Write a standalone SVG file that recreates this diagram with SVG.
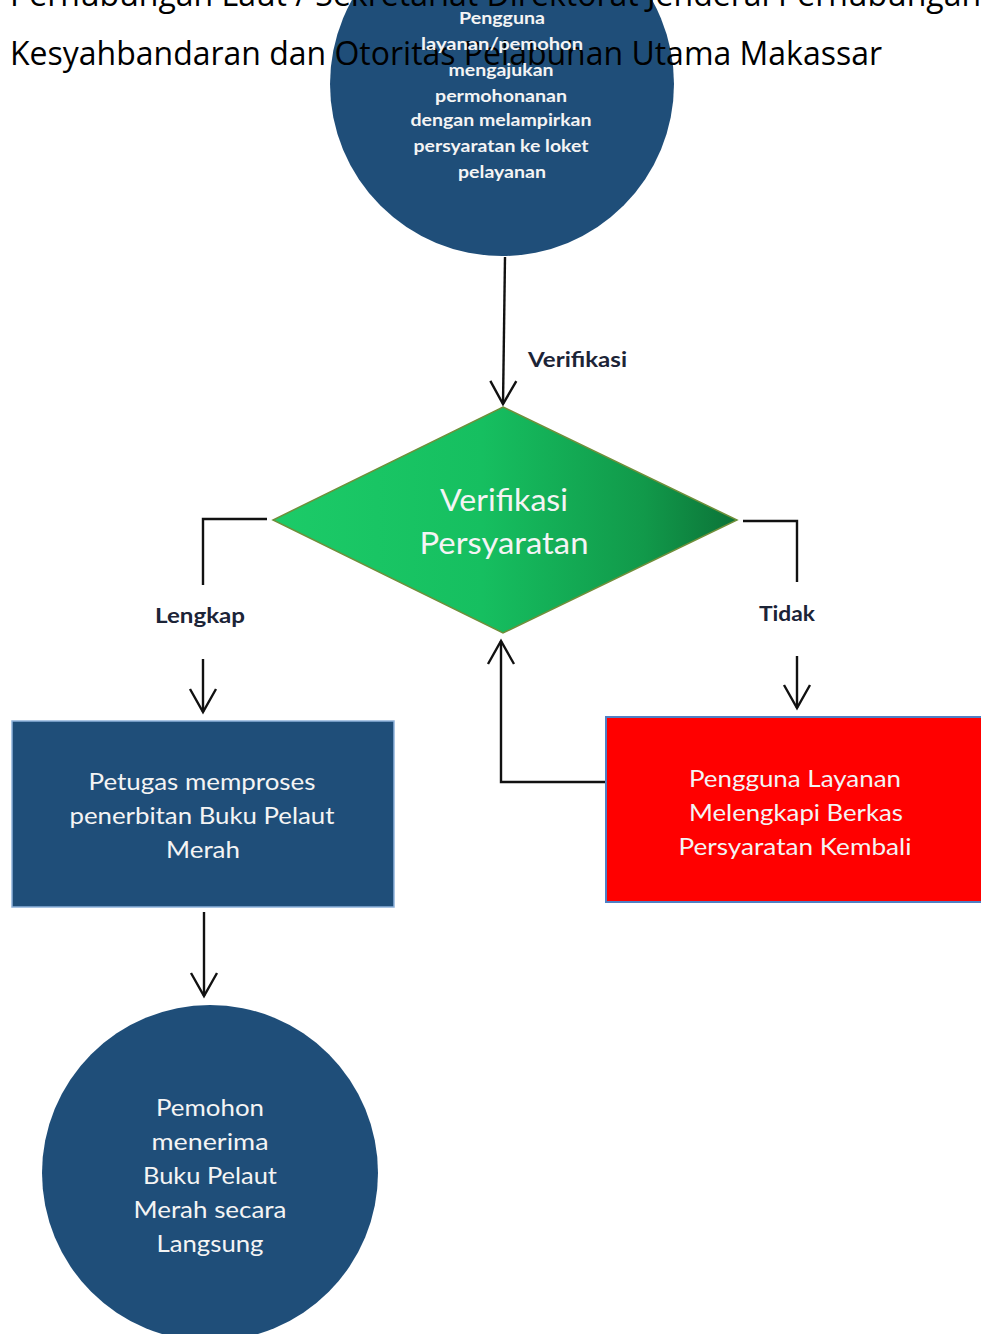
<svg xmlns="http://www.w3.org/2000/svg" width="981" height="1334" viewBox="0 0 981 1334">
<defs>
<linearGradient id="gd" x1="0" y1="0" x2="1" y2="0">
<stop offset="0" stop-color="#1ccb68"/>
<stop offset="0.45" stop-color="#16bf60"/>
<stop offset="0.8" stop-color="#11994a"/>
<stop offset="1" stop-color="#0c7338"/>
</linearGradient>
<marker id="ah" markerUnits="userSpaceOnUse" markerWidth="40" markerHeight="40" viewBox="-30 -20 40 40" refX="0" refY="0" orient="auto">
<path d="M -23 -13 L 0 0 L -23 13" fill="none" stroke="#111" stroke-width="2.4"/>
</marker>
<style>
.hdr{font-family:"Open Sans","Liberation Sans",sans-serif;font-size:32px;fill:#000}
.wt{font-family:"Lato","Open Sans",sans-serif;fill:#f4f4f4;text-anchor:middle}
.lbl{font-family:"Lato","Open Sans",sans-serif;font-size:21px;font-weight:bold;fill:#1c2437}
.con{fill:none;stroke:#111;stroke-width:2.4}
</style>
</defs>
<rect width="981" height="1334" fill="#fff"/>
<g id="node-start">
<circle cx="502" cy="84" r="172" fill="#1f4e79"/>
</g>
<g id="header">
<text class="hdr" x="10" y="6">Perhubungan Laut / Sekretariat Direktorat Jenderal Perhubungan</text>
<text class="hdr" x="10" y="65" textLength="872" lengthAdjust="spacingAndGlyphs">Kesyahbandaran dan Otoritas Pelabuhan Utama Makassar</text>
</g>
<g id="node-start-text" font-size="17" font-weight="bold">
<text class="wt" x="502" y="24" textLength="86" lengthAdjust="spacingAndGlyphs">Pengguna</text>
<text class="wt" x="502" y="50" textLength="162" lengthAdjust="spacingAndGlyphs">layanan/pemohon</text>
<text class="wt" x="501" y="76" textLength="105" lengthAdjust="spacingAndGlyphs">mengajukan</text>
<text class="wt" x="501" y="102" textLength="132" lengthAdjust="spacingAndGlyphs">permohonanan</text>
<text class="wt" x="501" y="126" textLength="181" lengthAdjust="spacingAndGlyphs">dengan melampirkan</text>
<text class="wt" x="501" y="152" textLength="175" lengthAdjust="spacingAndGlyphs">persyaratan ke loket</text>
<text class="wt" x="502" y="178" textLength="88" lengthAdjust="spacingAndGlyphs">pelayanan</text>
</g>
<g id="node-decision">
<polygon points="503,407 737,520 503,633 273,520" fill="url(#gd)" stroke="#6f8f3a" stroke-width="1.5"/>
<text class="wt" x="504" y="511" font-size="30" fill="#eaf7df" textLength="128" lengthAdjust="spacingAndGlyphs">Verifikasi</text>
<text class="wt" x="504" y="554" font-size="30" fill="#eaf7df" textLength="169" lengthAdjust="spacingAndGlyphs">Persyaratan</text>
</g>
<g id="node-process">
<rect x="12" y="721" width="382" height="186" fill="#1f4e79" stroke="#8fb3dc" stroke-width="1.5"/>
<text class="wt" x="202" y="790" font-size="24" textLength="227" lengthAdjust="spacingAndGlyphs">Petugas memproses</text>
<text class="wt" x="202" y="824" font-size="24" textLength="265" lengthAdjust="spacingAndGlyphs">penerbitan Buku Pelaut</text>
<text class="wt" x="203" y="858" font-size="24" textLength="74" lengthAdjust="spacingAndGlyphs">Merah</text>
</g>
<g id="node-reject">
<rect x="606" y="717" width="390" height="185" fill="#ff0000" stroke="#4f7fc4" stroke-width="2"/>
<text class="wt" x="795" y="787" font-size="24" textLength="212" lengthAdjust="spacingAndGlyphs">Pengguna Layanan</text>
<text class="wt" x="796" y="821" font-size="24" textLength="214" lengthAdjust="spacingAndGlyphs">Melengkapi Berkas</text>
<text class="wt" x="795" y="855" font-size="24" textLength="233" lengthAdjust="spacingAndGlyphs">Persyaratan Kembali</text>
</g>
<g id="node-end">
<circle cx="210" cy="1173" r="168" fill="#1f4e79"/>
<text class="wt" x="210" y="1116" font-size="24" textLength="108" lengthAdjust="spacingAndGlyphs">Pemohon</text>
<text class="wt" x="210" y="1150" font-size="24" textLength="117" lengthAdjust="spacingAndGlyphs">menerima</text>
<text class="wt" x="210" y="1184" font-size="24" textLength="134" lengthAdjust="spacingAndGlyphs">Buku Pelaut</text>
<text class="wt" x="210" y="1218" font-size="24" textLength="153" lengthAdjust="spacingAndGlyphs">Merah secara</text>
<text class="wt" x="210" y="1252" font-size="24" textLength="107" lengthAdjust="spacingAndGlyphs">Langsung</text>
</g>
<g id="connectors">
<line class="con" x1="505" y1="257" x2="503" y2="404" marker-end="url(#ah)"/>
<polyline class="con" points="267,519 203,519 203,585"/>
<line class="con" x1="203" y1="659" x2="203" y2="712" marker-end="url(#ah)"/>
<polyline class="con" points="743,521 797,521 797,582"/>
<line class="con" x1="797" y1="656" x2="797" y2="708" marker-end="url(#ah)"/>
<polyline class="con" points="605,782 501,782 501,641" marker-end="url(#ah)"/>
<line class="con" x1="204" y1="912" x2="204" y2="996" marker-end="url(#ah)"/>
</g>
<g id="labels">
<text class="lbl" x="528" y="367" textLength="99" lengthAdjust="spacingAndGlyphs">Verifikasi</text>
<text class="lbl" x="155" y="623" textLength="90" lengthAdjust="spacingAndGlyphs">Lengkap</text>
<text class="lbl" x="759" y="621" textLength="56" lengthAdjust="spacingAndGlyphs">Tidak</text>
</g>
</svg>
